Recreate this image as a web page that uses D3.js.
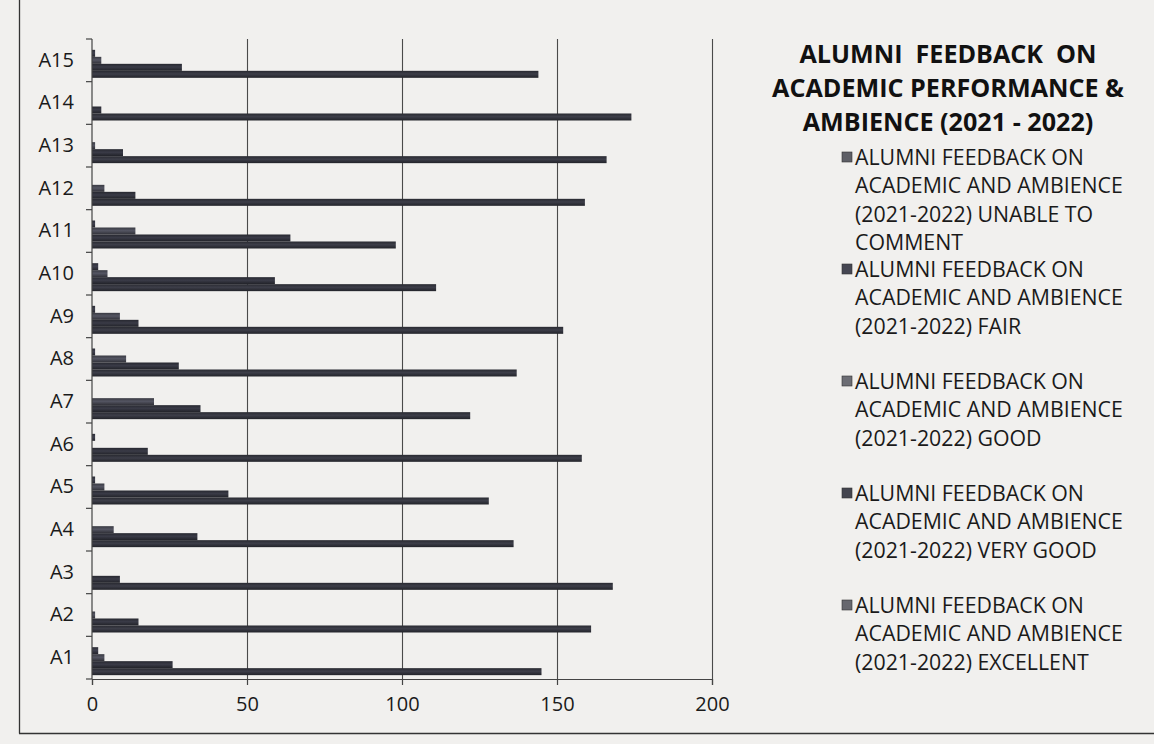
<!DOCTYPE html>
<html><head><meta charset="utf-8">
<script src="https://cdn.jsdelivr.net/npm/d3@7"></script>
<style>body{margin:0;background:#f1f0ee;} svg{display:block;}</style>
</head><body>
<svg id="c" width="1154" height="744"></svg>
<script>
// ---- data ----
const categories = ["A1","A2","A3","A4","A5","A6","A7","A8","A9","A10","A11","A12","A13","A14","A15"];
const seriesKeys = ["unable","fair","good","veryGood","excellent"];
const unable    = [0,0,0,0,0,0,0,0,0,0,0,0,0,0,0];
const fair      = [2,0,0,0,1,1,0,1,1,2,1,0,0,0,1];
const good      = [4,1,0,7,4,0,20,11,9,5,14,4,1,0,3];
const veryGood  = [26,15,9,34,44,18,35,28,15,59,64,14,10,3,29];
const excellent = [145,161,168,136,128,158,122,137,152,111,98,159,166,174,144];
const xTicks = [0,50,100,150,200];
const titleLines = ["ALUMNI  FEEDBACK  ON","ACADEMIC PERFORMANCE &","AMBIENCE (2021 - 2022)"];
const legendLines = [
  ["ALUMNI FEEDBACK ON","ACADEMIC AND AMBIENCE","(2021-2022) UNABLE TO","COMMENT"],
  ["ALUMNI FEEDBACK ON","ACADEMIC AND AMBIENCE","(2021-2022) FAIR"],
  ["ALUMNI FEEDBACK ON","ACADEMIC AND AMBIENCE","(2021-2022) GOOD"],
  ["ALUMNI FEEDBACK ON","ACADEMIC AND AMBIENCE","(2021-2022) VERY GOOD"],
  ["ALUMNI FEEDBACK ON","ACADEMIC AND AMBIENCE","(2021-2022) EXCELLENT"]
];
const seriesValues = {unable, fair, good, veryGood, excellent};
const seriesColors = {unable:"#3a3b44", fair:"#33343f", good:"#44454f", veryGood:"#2f3039", excellent:"#31323b"};
const legendMarkerColors = ["#5e5f66","#45465200","#6c6d74","#44454f","#66676e"].map(c=>c.slice(0,7));

const FONT = "'Open Sans', 'Noto Sans', 'Liberation Sans', sans-serif";
const svg = d3.select("#c");

function fitSize(text, weight, target){
  const t = svg.append("text").attr("font-family",FONT).attr("font-weight",weight)
    .attr("font-size",20).style("white-space","pre").text(text);
  const w = t.node().getComputedTextLength();
  t.remove();
  return 20*target/w;
}

// outer border (left and bottom)
svg.append("line").attr("x1",19.5).attr("x2",19.5).attr("y1",0).attr("y2",733.5).attr("stroke","#333").attr("stroke-width",1.3);
svg.append("line").attr("x1",19).attr("x2",1154).attr("y1",733.5).attr("y2",733.5).attr("stroke","#333").attr("stroke-width",1.3);

const pLeft = 92, pRight = 712, pTop = 39, pBottom = 679;
const x = d3.scaleLinear().domain([0,200]).range([pLeft,pRight]);
const y0 = d3.scaleBand().domain(categories.slice().reverse()).range([pTop,pBottom]).padding(0);
const step = y0.bandwidth();
const bw = step/6.1;
const y1 = d3.scaleBand().domain(seriesKeys).range([0.55*bw, step-0.55*bw]).padding(0);

// gradient for bar look
const defs = svg.append("defs");
seriesKeys.forEach(k=>{
  const g = defs.append("linearGradient").attr("id","g_"+k).attr("x1",0).attr("x2",0).attr("y1",0).attr("y2",1);
  const c = d3.color(seriesColors[k]);
  g.append("stop").attr("offset","0%").attr("stop-color",c.darker(0.5));
  g.append("stop").attr("offset","45%").attr("stop-color",c.brighter(0.6));
  g.append("stop").attr("offset","100%").attr("stop-color",c.darker(1));
});

// gridlines
const grid = svg.append("g").attr("transform",`translate(0,${pBottom})`)
  .call(d3.axisBottom(x).tickValues(xTicks.slice(1)).tickSize(-(pBottom-pTop)).tickFormat(""));
grid.select(".domain").remove();
grid.selectAll("line").attr("stroke","#4a4a4a").attr("stroke-width",1.1);

// bars
seriesKeys.forEach(k=>{
  svg.append("g").selectAll("rect").data(categories).join("rect")
    .attr("x",x(0))
    .attr("y",(c)=>y0(c)+y1(k))
    .attr("width",(c,i)=>x(seriesValues[k][i])-x(0))
    .attr("height",y1.bandwidth())
    .attr("fill",`url(#g_${k})`);
});

// x axis
const xa = svg.append("g").attr("transform",`translate(0,${pBottom})`)
  .call(d3.axisBottom(x).tickValues(xTicks).tickSize(6).tickPadding(12));
xa.select(".domain").attr("stroke","#444").attr("stroke-width",1.2);
xa.selectAll("line").attr("stroke","#444").attr("stroke-width",1.2);
xa.selectAll("text").attr("font-family",FONT).attr("font-size",20).attr("fill","#1a1a1a");

// y axis
const ya = svg.append("g").attr("transform",`translate(${pLeft},0)`)
  .call(d3.axisLeft(y0).tickSize(0).tickPadding(18));
ya.select(".domain").remove();
ya.selectAll("text").attr("font-family",FONT).attr("font-size",20).attr("fill","#1a1a1a");
svg.append("line").attr("x1",pLeft).attr("x2",pLeft).attr("y1",pTop).attr("y2",pBottom).attr("stroke","#444").attr("stroke-width",1.2);
const bounds = y0.domain().map(c=>y0(c)).concat([pBottom]);
svg.append("g").selectAll("line").data(bounds).join("line")
  .attr("x1",pLeft-6).attr("x2",pLeft).attr("y1",d=>d).attr("y2",d=>d)
  .attr("stroke","#444").attr("stroke-width",1.2);

// title
const titleSize = fitSize(titleLines[1], "bold", 352);
svg.append("g").selectAll("text").data(titleLines).join("text")
  .attr("x",948).attr("y",(d,i)=>63+i*34)
  .attr("text-anchor","middle").attr("font-family",FONT).attr("font-weight","bold")
  .attr("font-size",titleSize).attr("fill","#111").style("white-space","pre").text(d=>d);

// legend
const legendSize = fitSize("ACADEMIC AND AMBIENCE", "normal", 268);
const lg = svg.append("g");
legendLines.forEach((lines,i)=>{
  const yb = 165 + i*112;
  lg.append("rect").attr("x",842).attr("y",yb-13).attr("width",10).attr("height",10)
    .attr("fill",legendMarkerColors[i]).attr("stroke","#333").attr("stroke-width",0.6);
  lines.forEach((t,j)=>{
    lg.append("text").attr("x",855).attr("y",yb+j*28.3).attr("font-family",FONT)
      .attr("font-size",legendSize).attr("fill","#1a1a1a").text(t);
  });
});
</script>
</body></html>
